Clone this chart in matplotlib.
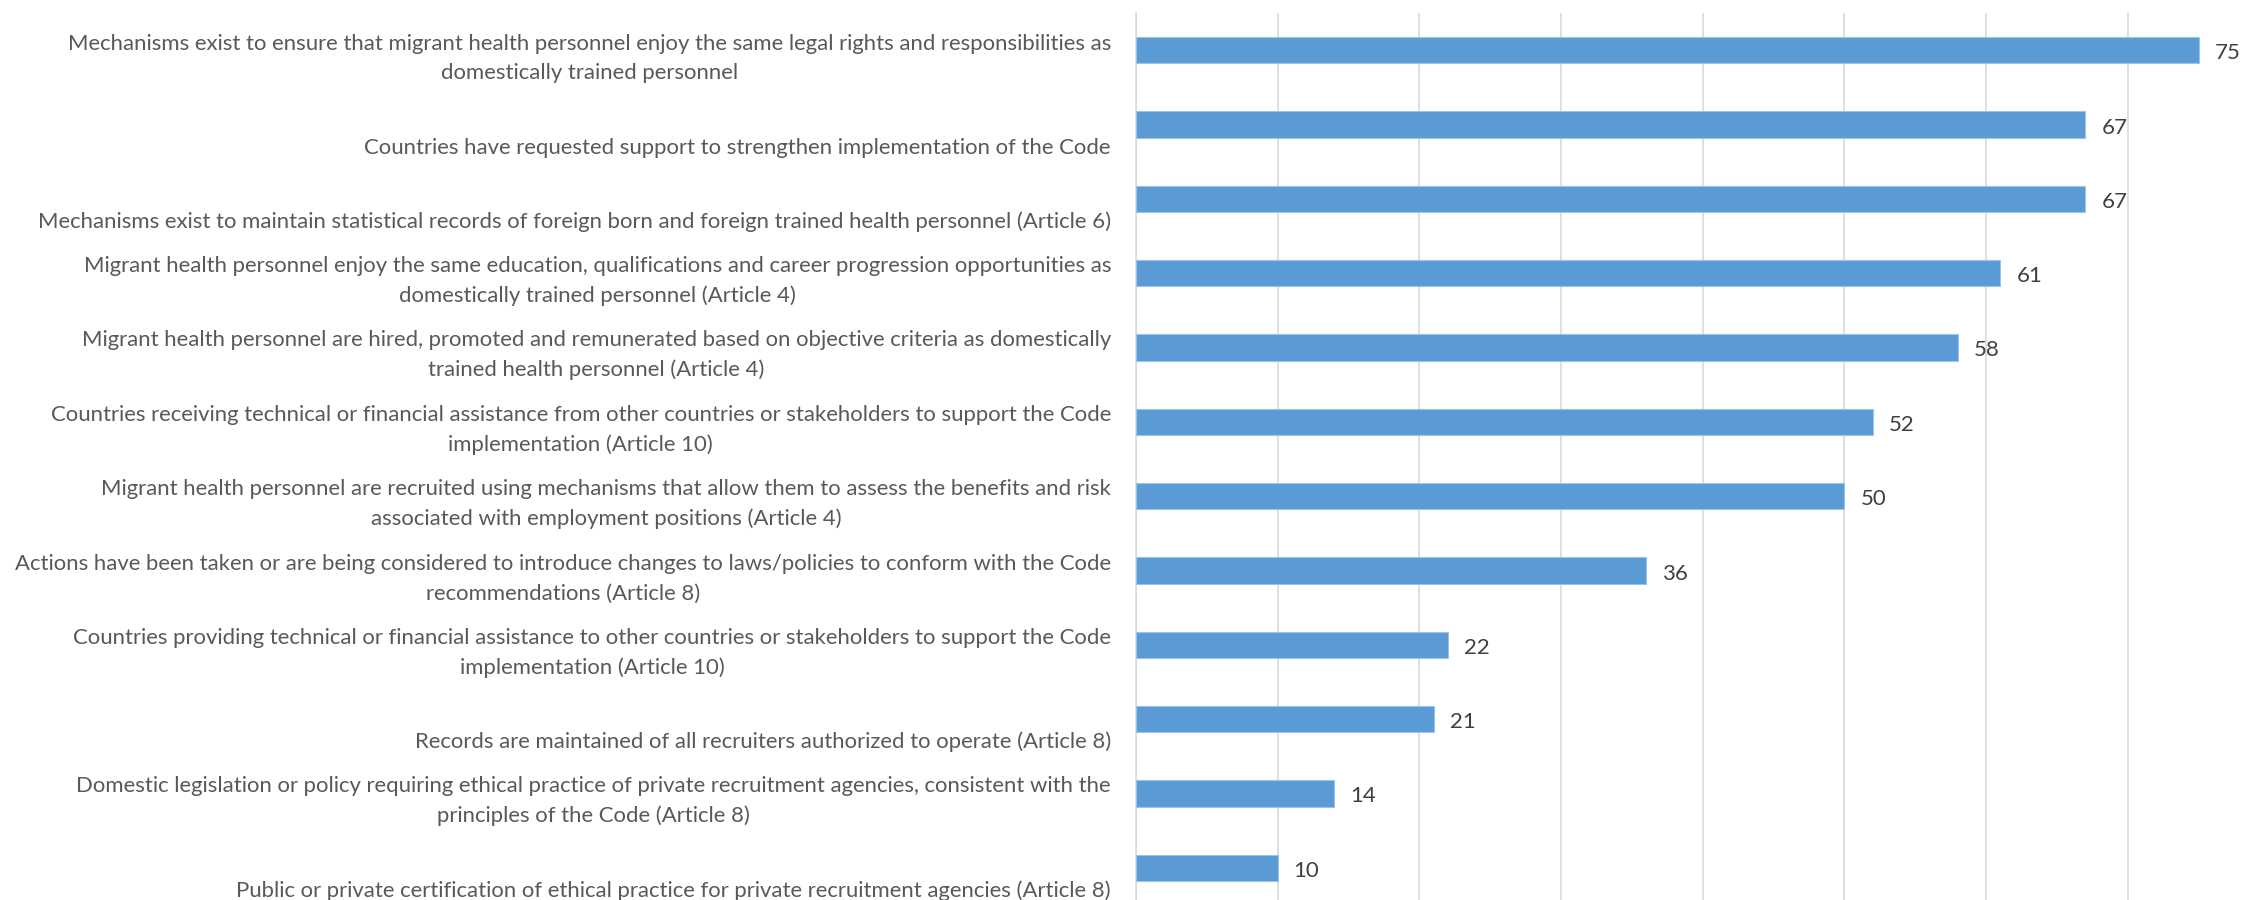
import matplotlib
matplotlib.use("Agg")
import matplotlib.pyplot as plt

# survey items, top to bottom, and the count of countries reporting each
labels = [
    "Mechanisms exist to ensure that migrant health personnel enjoy the same legal rights and responsibilities as\ndomestically trained personnel",
    "Countries have requested support to strengthen implementation of the Code",
    "Mechanisms exist to maintain statistical records of foreign born and foreign trained health personnel (Article 6)",
    "Migrant health personnel enjoy the same education, qualifications and career progression opportunities as\ndomestically trained personnel (Article 4)",
    "Migrant health personnel are hired, promoted and remunerated based on objective criteria as domestically\ntrained health personnel (Article 4)",
    "Countries receiving technical or financial assistance from other countries or stakeholders to support the Code\nimplementation (Article 10)",
    "Migrant health personnel are recruited using mechanisms that allow them to assess the benefits and risk\nassociated with employment positions (Article 4)",
    "Actions have been taken or are being considered to introduce changes to laws/policies to conform with the Code\nrecommendations (Article 8)",
    "Countries providing technical or financial assistance to other countries or stakeholders to support the Code\nimplementation (Article 10)",
    "Records are maintained of all recruiters authorized to operate (Article 8)",
    "Domestic legislation or policy requiring ethical practice of private recruitment agencies, consistent with the\nprinciples of the Code (Article 8)",
    "Public or private certification of ethical practice for private recruitment agencies (Article 8)",
]
counts = [75, 67, 67, 61, 58, 52, 50, 36, 22, 21, 14, 10]

plt.rcParams["font.family"] = ["Lato", "DejaVu Sans"]

fig = plt.figure(figsize=(22.49, 9), dpi=100)
ax = fig.add_axes([1136 / 2249, -5 / 900, 1 - 1136 / 2249, 1 - 13 / 900 + 5 / 900])

ypos = list(range(len(counts)))
ax.barh(ypos, counts, height=0.35, color="#5b9bd5", edgecolor="#9dc3e6", linewidth=0.8, zorder=3)
ax.set_xlim(0, 78.55)
ax.set_ylim(len(counts) - 0.5, -0.5)

ax.set_xticks(range(0, 80, 10))
ax.grid(axis="x", color="#d9d9d9", linewidth=1.2, zorder=0)
ax.tick_params(left=False, bottom=False, labelleft=False, labelbottom=False)
for side in ["top", "right", "bottom"]:
    ax.spines[side].set_visible(False)
ax.spines["left"].set_color("#d9d9d9")
ax.spines["left"].set_linewidth(1.2)

px = 0.72  # points per pixel at 100 dpi
for y, lab, val in zip(ypos, labels, counts):
    ax.annotate(lab, xy=(0, y), xycoords=("axes fraction", "data"),
                xytext=(-25 * px, -33 * px), textcoords="offset points",
                ha="right", va="bottom", multialignment="center",
                fontsize=15.9, color="#595959", linespacing=1.57)
    ax.annotate(str(val), xy=(val, y), xytext=(16 * px, -3 * px),
                textcoords="offset points", ha="left", va="center",
                fontsize=16, color="#404040")

fig.savefig("out.png", dpi=100)
